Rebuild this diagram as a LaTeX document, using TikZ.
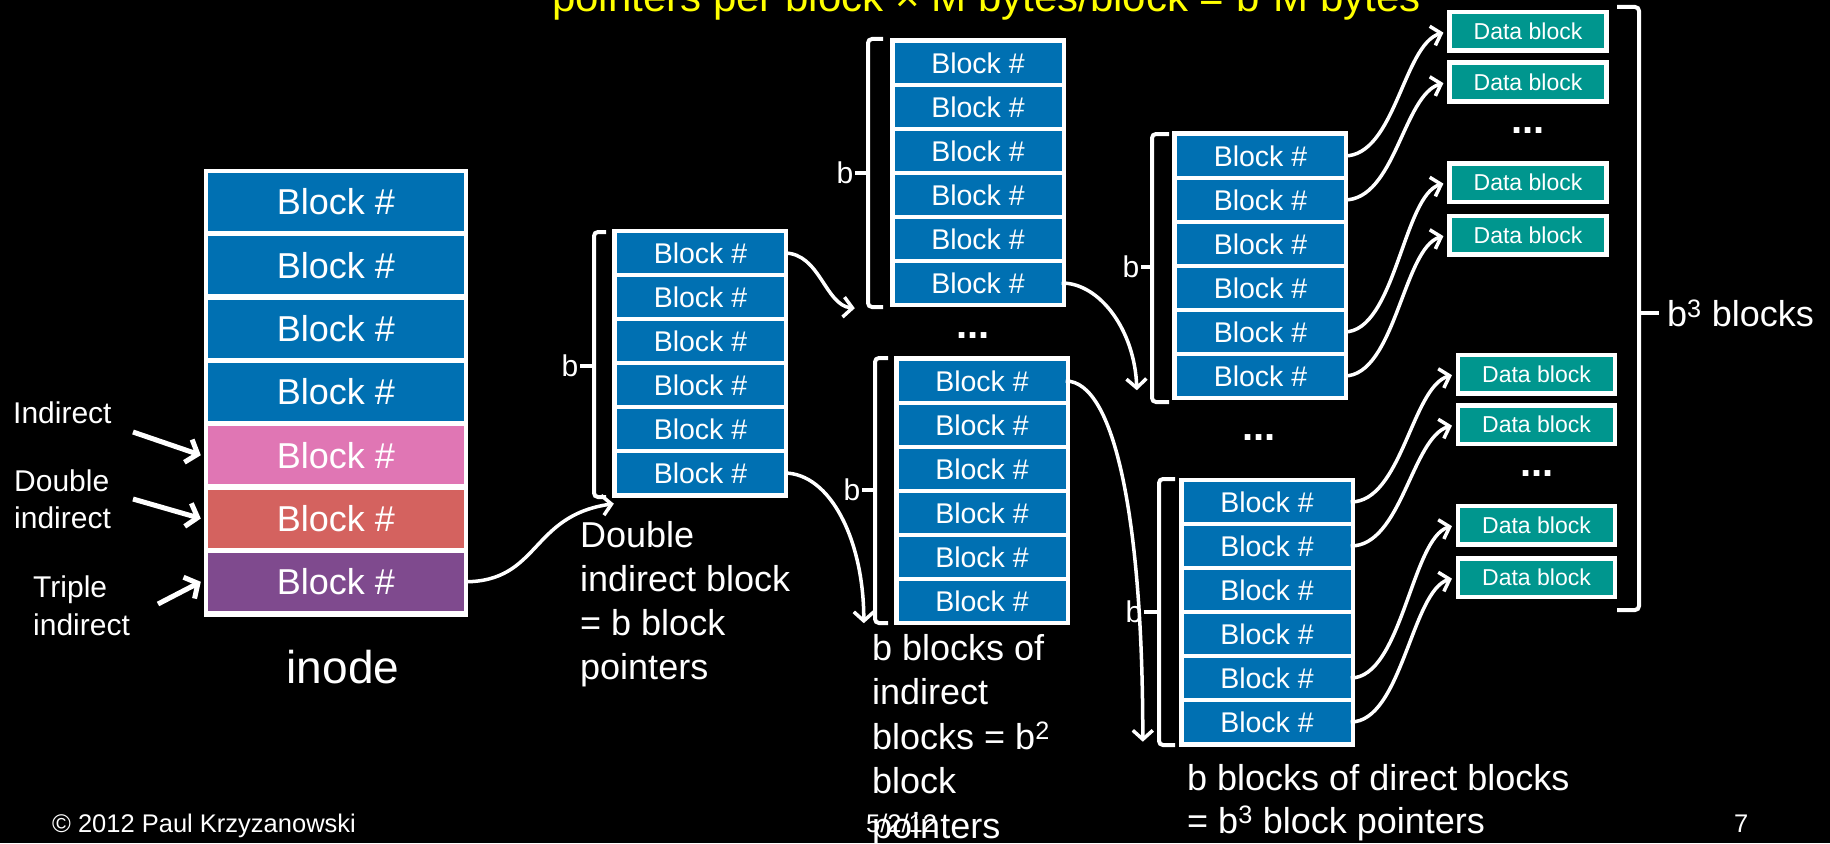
\documentclass[tikz,border=0pt]{standalone}
\usepackage{fontspec}
\setmainfont{Liberation Sans}
\usetikzlibrary{arrows.meta}
\definecolor{blk}{RGB}{0,112,178}
\definecolor{ipink}{RGB}{224,118,180}
\definecolor{ired}{RGB}{212,98,95}
\definecolor{ipurple}{RGB}{127,74,142}
\definecolor{dteal}{RGB}{0,150,142}
\definecolor{ttl}{RGB}{255,255,0}
\newcommand\myfs[1]{\fontsize{#1pt}{#1pt}\selectfont}
\begin{document}
\begin{tikzpicture}[x=1pt,y=-1pt,
  blockrow/.style={fill=blk,text=white,inner sep=0pt,minimum width=167pt,minimum height=40pt,font=\myfs{28.5}},
  inoderow/.style={fill=#1,text=white,inner sep=0pt,minimum width=256pt,minimum height=58pt,font=\myfs{36}},
  framebox/.style={fill=white,inner sep=0pt,minimum width=176pt,minimum height=269pt},
  datablk/.style={fill=dteal,draw=white,line width=4.5pt,text=white,inner sep=0pt,minimum width=157pt,minimum height=38.5pt,font=\myfs{23}},
  ptr/.style={draw=white,line width=3.5pt,-{Straight Barb[length=9pt,width=20pt]}},
  lblptr/.style={draw=white,line width=5pt,-{Straight Barb[length=10pt,width=24pt]}},
  brk/.style={draw=white,line width=4pt,rounded corners=4pt},
  tickline/.style={draw=white,line width=4pt},
  wtxt/.style={text=white,inner sep=0pt,anchor=base west,font=\myfs{36}},
  lbl/.style={text=white,inner sep=0pt,anchor=base west,font=\myfs{30}},
  bl/.style={text=white,inner sep=1.5pt,anchor=east,font=\myfs{30}},
  foot/.style={text=white,inner sep=0pt,anchor=base west,font=\myfs{25.5}},
  dotsn/.style={text=white,inner sep=0pt,anchor=base,font=\myfs{40}\bfseries},
]
\useasboundingbox (0,0) rectangle (1830,843);
\fill[black] (0,0) rectangle (1830,843);
\begin{scope}
\clip (0,0) rectangle (1830,843);

% title (cut at top)
\node[text=ttl,anchor=base west,inner sep=0pt,font=\myfs{42}] (title) at (552,12) {pointers per block × M bytes/block = b³M bytes};

% inode
\node[framebox,minimum width=264pt,minimum height=448pt] (inodebox) at (336,393) {};
\foreach \i/\c in {1/blk,2/blk,3/blk,4/blk,5/ipink,6/ired,7/ipurple}
  \node[inoderow=\c] (in\i) at (336,{202+63.3*(\i-1)}) {Block \#};
\node[text=white,anchor=base,inner sep=0pt,font=\myfs{46}] (inodelbl) at (343,683) {inode};

% left labels
\node[lbl] (tI) at (13,423) {Indirect};
\node[lbl] (tD1) at (14,491) {Double};
\node[lbl] (tD2) at (14,528) {indirect};
\node[lbl] (tT1) at (33,597) {Triple};
\node[lbl] (tT2) at (33,635) {indirect};
\coordinate (sI) at (133,432);
\coordinate (sD) at (133,499);
\coordinate (sT) at (158,604);
\draw[lblptr] (sI) -- ([xshift=-7pt]in5.west);
\draw[lblptr] (sD) -- ([xshift=-7pt]in6.west);
\draw[lblptr] (sT) -- ([xshift=-7pt]in7.west);

% column 2 (double indirect)
\node[framebox] (c2box) at (700,363) {};
\foreach \i in {1,...,6}
  \node[blockrow] (c2r\i) at (700.5,{253+44*(\i-1)}) {Block \#};
\draw[brk] (606,232) -- (594,232) -- (594,497) -- (606,497);
\draw[tickline] (594,366) -- (580,366);
\node[bl] (b2) at (580,366) {b};
\node[wtxt] (t2a) at (580,547) {Double};
\node[wtxt] (t2b) at (580,591) {indirect block};
\node[wtxt] (t2c) at (580,635) {= b block};
\node[wtxt] (t2d) at (580,679) {pointers};

% column 3 top
\node[framebox] (c3tbox) at (978,172.5) {};
\foreach \i in {1,...,6}
  \node[blockrow] (c3t\i) at (978,{63+44*(\i-1)}) {Block \#};
\draw[brk] (883,39) -- (868,39) -- (868,307) -- (883,307);
\draw[tickline] (868,173) -- (855,173);
\node[bl] (b3t) at (855,173) {b};
\node[dotsn] (dots3) at (973,338) {...};

% column 3 bottom
\node[framebox] (c3bbox) at (982,490.5) {};
\foreach \i in {1,...,6}
  \node[blockrow] (c3b\i) at (982,{381+44*(\i-1)}) {Block \#};
\draw[brk] (888,358) -- (875,358) -- (875,623) -- (888,623);
\draw[tickline] (875,490) -- (862,490);
\node[bl] (b3b) at (862,490) {b};
\node[wtxt] (t3a) at (872,660) {b blocks of};
\node[wtxt] (t3b) at (872,704) {indirect};
\node[wtxt] (t3c) at (872,749) {blocks = b\textsuperscript{2}};
\node[wtxt] (t3d) at (872,793) {block};
\node[wtxt] (t3e) at (872,838) {pointers};

% column 4 top
\node[framebox] (c4tbox) at (1260,265.5) {};
\foreach \i in {1,...,6}
  \node[blockrow] (c4t\i) at (1260.5,{156+44*(\i-1)}) {Block \#};
\draw[brk] (1169,134) -- (1152,134) -- (1152,402) -- (1169,402);
\draw[tickline] (1152,267) -- (1141,267);
\node[bl] (b4t) at (1141,267) {b};
\node[dotsn] (dots4) at (1259,440) {...};

% column 4 bottom
\node[framebox] (c4bbox) at (1267,612) {};
\foreach \i in {1,...,6}
  \node[blockrow] (c4b\i) at (1267,{502+44*(\i-1)}) {Block \#};
\draw[brk] (1175,479) -- (1159,479) -- (1159,745) -- (1175,745);
\draw[tickline] (1159,612) -- (1144,612);
\node[bl] (b4b) at (1144,612) {b};
\node[wtxt] (t4a) at (1187,790) {b blocks of direct blocks};
\node[wtxt] (t4b) at (1187,833) {= b\textsuperscript{3} block pointers};

% data blocks
\node[datablk] (d1) at (1528,31.5) {Data block};
\node[datablk] (d2) at (1528,82) {Data block};
\node[datablk] (d3) at (1528,182.5) {Data block};
\node[datablk] (d4) at (1528,235) {Data block};
\node[datablk] (d5) at (1536.5,374) {Data block};
\node[datablk] (d6) at (1536.5,424.5) {Data block};
\node[datablk] (d7) at (1536.5,525) {Data block};
\node[datablk] (d8) at (1536.5,577.5) {Data block};
\node[dotsn] (ddots1) at (1528,133) {...};
\node[dotsn] (ddots2) at (1537,476) {...};

% big bracket
\draw[brk] (1617,7) -- (1639,7) -- (1639,610) -- (1617,610);
\draw[tickline] (1639,313) -- (1659,313);
\node[text=white,anchor=west,inner sep=0pt,font=\myfs{36}] (b3lbl) at (1667,313) {b\textsuperscript{3} blocks};

% connectors
\draw[ptr] (in7.east) .. controls +(76,0) and +(-84,12) .. ([shift={(2,6)}]c2box.south west);
\draw[ptr] (c2r1.east) .. controls +(36,0) and +(-30,-3) .. ([shift={(-35,1)}]c3tbox.south west);
\draw[ptr] (c2r6.east) .. controls +(46,0) and +(0,-83) .. ([shift={(-30,-2)}]c3bbox.south west);
\draw[ptr] (c3t6.east) .. controls +(38,0) and +(-2,-60) .. ([shift={(-35,-10)}]c4tbox.south west);
\draw[ptr] (c3b1.east) .. controls +(49,0) and +(0,-222) .. ([shift={(-36,-5)}]c4bbox.south west);
\foreach \s/\t in {c4t1/d1,c4t2/d2,c4t5/d3,c4t6/d4,c4b1/d5,c4b2/d6,c4b5/d7,c4b6/d8}
  \draw[ptr,shorten >=4pt] (\s.east) .. controls +(51,0) and +(-44,13) .. (\t.west);

% footer
\node[foot] (copy) at (52,832) {© 2012 Paul Krzyzanowski};
\node[foot] (date) at (866,832) {5/2/12};
\node[foot] (pg) at (1734,832) {7};
\end{scope}
\end{tikzpicture}
\end{document}
